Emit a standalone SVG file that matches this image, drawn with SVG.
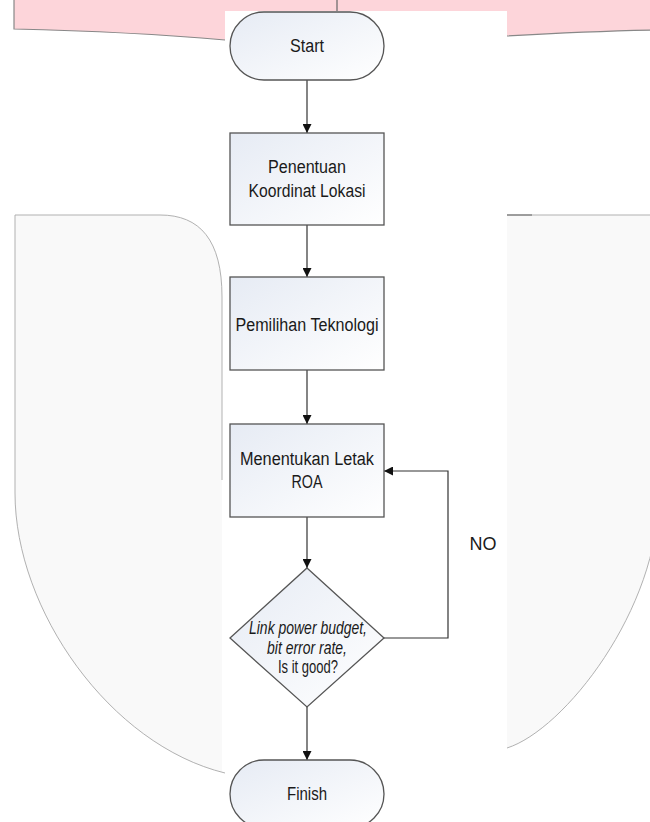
<svg xmlns="http://www.w3.org/2000/svg" width="650" height="822" viewBox="0 0 650 822">
<defs>
<style>
.bg-fill{fill:#f9f9f9;stroke:none}
.bg-line{fill:none;stroke:#a8a8a8;stroke-width:0.9}
.shape{stroke:#555;stroke-width:1.3;fill:url(#g)}
.lbl{font-family:"Liberation Sans",Arial,sans-serif;font-size:18px;fill:#1a1a1a;text-anchor:middle}
.it{font-style:italic}
.conn{fill:none;stroke:#333;stroke-width:1.2}
</style>
<linearGradient id="g" x1="0" y1="0" x2="1" y2="1">
<stop offset="0" stop-color="#e6ebf4"/>
<stop offset="1" stop-color="#ffffff"/>
</linearGradient>
<marker id="ah" viewBox="0 0 10 10" refX="10" refY="5" markerWidth="9" markerHeight="9" markerUnits="userSpaceOnUse" orient="auto">
<path d="M0,0 L10,5 L0,10 Z" fill="#111"/>
</marker>
</defs>

<g id="background">
<path class="bg-fill" d="M14,0 V29 C100,31 180,36 225,40 L507,36 C560,33 600,31 660,30 V0 Z" style="fill:#fdd5da"/>
<path class="bg-line" d="M14,0 V29 C100,31 180,36 225,40 M507,36 C560,33 600,31 660,30" style="stroke:#888;stroke-width:1.2"/>
<line x1="337" y1="0" x2="337" y2="12" stroke="#666" stroke-width="1.2"/>
<path class="bg-fill" d="M15,215 H160 C200,215 222,240 222,297 V773 H225 C110,745 15,610 15,493 Z"/>
<path class="bg-fill" d="M507,215 H659 V493 C659,610 564,730 507,748 Z"/>
<path class="bg-line" d="M15,215 H160 C200,215 222,240 222,297 V480"/>
<path class="bg-line" d="M15,215 V493 C15,610 110,745 225,773"/>
<path class="bg-line" d="M507,215 H659 V493 C659,610 564,730 507,748"/>
<line x1="507" y1="215" x2="532" y2="215" stroke="#777" stroke-width="1.2"/>
<rect x="225" y="11" width="282" height="811" fill="#ffffff"/>
</g>

<g id="connectors">
<line class="conn" x1="307" y1="80" x2="307" y2="133" marker-end="url(#ah)"/>
<line class="conn" x1="307" y1="225" x2="307" y2="277" marker-end="url(#ah)"/>
<line class="conn" x1="307" y1="370" x2="307" y2="424" marker-end="url(#ah)"/>
<line class="conn" x1="307" y1="517" x2="307" y2="568" marker-end="url(#ah)"/>
<line class="conn" x1="307" y1="707" x2="307" y2="760" marker-end="url(#ah)"/>
<polyline class="conn" points="384,638 448,638 448,471 384,471" marker-end="url(#ah)"/>
<text class="lbl" x="483" y="550" textLength="27" lengthAdjust="spacingAndGlyphs">NO</text>
</g>

<g id="start">
<rect class="shape" x="230" y="12" width="154" height="68" rx="34" ry="34"/>
<text class="lbl" x="307" y="52" textLength="34" lengthAdjust="spacingAndGlyphs">Start</text>
</g>

<g id="penentuan">
<rect class="shape" x="230" y="133" width="154" height="92"/>
<text class="lbl" x="307" y="173" textLength="78" lengthAdjust="spacingAndGlyphs">Penentuan</text>
<text class="lbl" x="307" y="197" textLength="117" lengthAdjust="spacingAndGlyphs">Koordinat Lokasi</text>
</g>

<g id="pemilihan">
<rect class="shape" x="230" y="277" width="154" height="93"/>
<text class="lbl" x="307" y="331" textLength="143" lengthAdjust="spacingAndGlyphs">Pemilihan Teknologi</text>
</g>

<g id="menentukan">
<rect class="shape" x="230" y="424" width="154" height="93"/>
<text class="lbl" x="307" y="465" textLength="134" lengthAdjust="spacingAndGlyphs">Menentukan Letak</text>
<text class="lbl" x="307" y="488" textLength="31" lengthAdjust="spacingAndGlyphs">ROA</text>
</g>

<g id="decision">
<polygon class="shape" points="307,568 384,638 307,707 230,638"/>
<text class="lbl it" x="308" y="634" textLength="118" lengthAdjust="spacingAndGlyphs">Link power budget,</text>
<text class="lbl it" x="307" y="654" textLength="80" lengthAdjust="spacingAndGlyphs">bit error rate,</text>
<text class="lbl" x="308" y="673" textLength="60" lengthAdjust="spacingAndGlyphs">Is it good?</text>
</g>

<g id="finish">
<rect class="shape" x="230" y="760" width="154" height="68" rx="34" ry="34"/>
<text class="lbl" x="307" y="800" textLength="40" lengthAdjust="spacingAndGlyphs">Finish</text>
</g>
</svg>
